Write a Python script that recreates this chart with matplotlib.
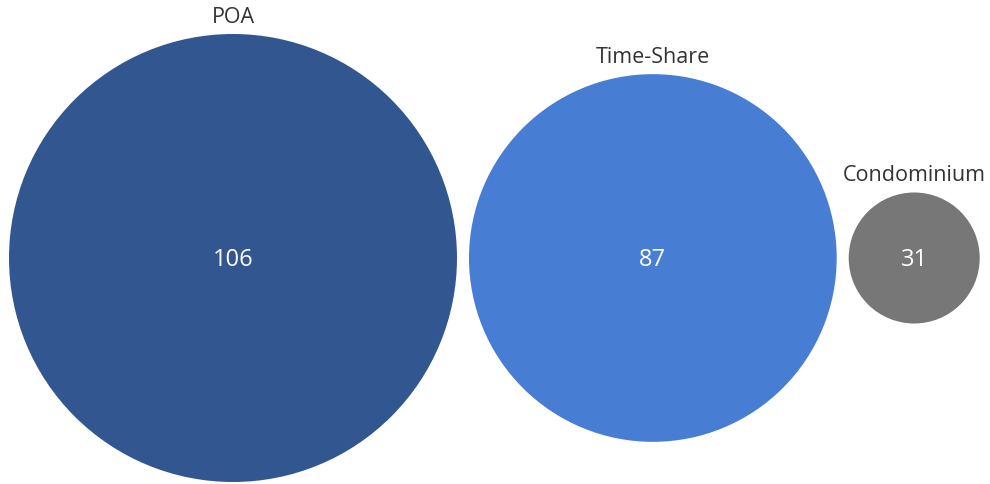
import matplotlib

matplotlib.use("Agg")
import matplotlib.pyplot as plt
from matplotlib.patches import Circle

# bubble data
categories = ["POA", "Time-Share", "Condominium"]
counts = [106, 87, 31]
colors = ["#32568f", "#477ed4", "#777777"]

plt.rcParams["font.family"] = ["Open Sans", "DejaVu Sans"]

W, H = 990, 485
fig = plt.figure(figsize=(W / 100, H / 100), dpi=100)
ax = fig.add_axes([0, 0, 1, 1])
ax.set_xlim(0, W)
ax.set_ylim(H, 0)
ax.set_aspect("equal")
ax.axis("off")

# radius proportional to value, circles packed left to right
px_per_unit = 224 / 106
gap = 12
cy = 259
x = 9
for cat, n, col in zip(categories, counts, colors):
    r = n * px_per_unit
    cx = x + r
    ax.add_patch(Circle((cx, cy), r, color=col, lw=0))
    ax.text(cx, cy + 1, str(n), ha="center", va="center", color="white", fontsize=17)
    ax.text(cx, cy - r - 7, cat, ha="center", va="bottom", color="#333333", fontsize=15.5)
    x = cx + r + gap

fig.savefig("out.png", dpi=100)
